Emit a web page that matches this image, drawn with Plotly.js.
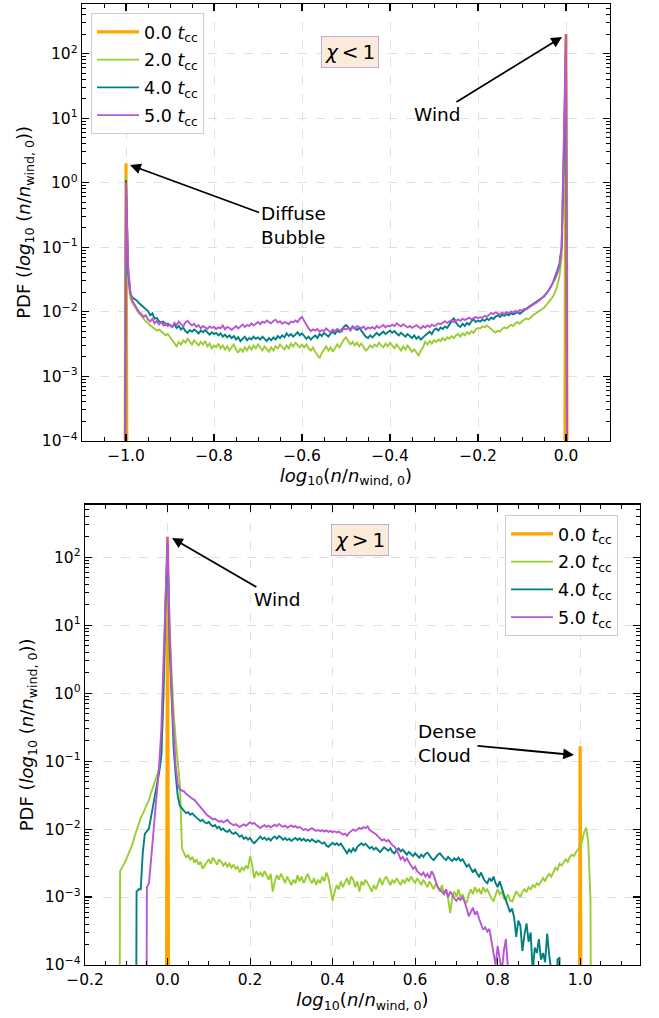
<!DOCTYPE html>
<html>
<head>
<meta charset="utf-8">
<script src="https://cdn.plot.ly/plotly-3.0.1.min.js"></script>
<style>html,body{margin:0;padding:0;background:#fff;}#chart{width:659px;height:1018px;}</style>
</head>
<body>
<div id="chart"></div>
<script>
// ---------- data ----------
const seriesNames = ["0.0 <i>t</i><sub>cc</sub>", "2.0 <i>t</i><sub>cc</sub>", "4.0 <i>t</i><sub>cc</sub>", "5.0 <i>t</i><sub>cc</sub>"];
const seriesColors = ["#FFA500", "#9ACD32", "#008080", "#BA55D3"];
const ZERO = 1e-12; // empty bin (PDF = 0)

// top panel (chi < 1): bins of width 0.005 starting at -1.005
const topStart = -1.005;
const topStep = 0.005;
const topOrangeX = [-1.005, -1.0, -0.995, -0.005, 0.0, 0.005];
const topOrangeY = [ZERO, 2.0, ZERO, ZERO, 200, ZERO];
const topGreen = [ZERO,
  1.3, .03, .016, .0135, .0118, .0102, .0093, .0086, .0078, .0071,
  .0067, .0061, .0058, .0055, .0051, .0053, .0049, .0046, .0043, .0045,
  .0040, .0037, .0033, .0029, .0034, .0031, .0036, .0033, .0038, .0034,
  .0031, .0036, .0033, .0030, .0034, .0031, .0035, .0029, .0032, .0027,
  .0030, .0028, .0032, .0027, .0030, .0026, .0029, .0025, .0028, .0031,
  .0026, .0023, .0027, .0024, .0028, .0025, .0029, .0026, .0030, .0027,
  .0031, .0028, .0025, .0029, .0026, .0024, .0028, .0025, .0029, .0027,
  .0031, .0028, .0026, .0030, .0027, .0032, .0029, .0033, .0030, .0028,
  .0031, .0028, .0031, .0027, .0025, .0028, .0024, .0021, .0019, .0023,
  .0026, .0029, .0025, .0028, .0024, .0027, .0031, .0028, .0033, .0037,
  .0040, .0036, .0031, .0034, .0030, .0033, .0029, .0032, .0028, .0025,
  .0027, .0030, .0028, .0031, .0029, .0033, .0030, .0028, .0032, .0029,
  .0033, .0030, .0027, .0031, .0028, .0025, .0029, .0026, .0030, .0027,
  .0024, .0026, .0023, .0021, .0025, .0028, .0034, .0031, .0035, .0032,
  .0036, .0034, .0037, .0035, .0039, .0036, .0040, .0038, .0042, .0039,
  .0043, .0045, .0041, .0046, .0043, .0048, .0045, .0050, .0047, .0053,
  .0056, .0055, .0059, .0057, .0061, .0058, .0054, .0050, .0047, .0051,
  .0049, .0054, .0057, .0055, .0059, .0063, .0060, .0066, .0069, .0065,
  .0071, .0074, .0079, .0076, .0083, .0088, .0093, .0098, .0102, .0108,
  .0115, .0125, .0138, .015, .017, .02, .025, .035, .07, 1.0,
  150, ZERO];
const topTeal = [ZERO,
  1.1, .04, .019, .0165, .0158, .0148, .0135, .0125, .0115, .0108,
  .0102, .0088, .0094, .0078, .0080, .0071, .0068, .0070, .0062, .0065,
  .0062, .0058, .0064, .0056, .0060, .0053, .0057, .0050, .0047, .0052,
  .0049, .0053, .0050, .0046, .0051, .0048, .0052, .0047, .0044, .0048,
  .0045, .0047, .0043, .0046, .0041, .0044, .0040, .0043, .0039, .0042,
  .0037, .0040, .0035, .0038, .0041, .0036, .0039, .0037, .0041, .0038,
  .0040, .0037, .0041, .0038, .0035, .0039, .0036, .0040, .0037, .0042,
  .0039, .0043, .0040, .0046, .0042, .0045, .0041, .0044, .0048, .0043,
  .0046, .0042, .0038, .0041, .0037, .0040, .0043, .0039, .0045, .0042,
  .0047, .0044, .0041, .0046, .0049, .0045, .0051, .0048, .0054, .0058,
  .0062, .0057, .0053, .0059, .0055, .0052, .0056, .0050, .0046, .0041,
  .0039, .0043, .0040, .0044, .0047, .0043, .0046, .0049, .0045, .0048,
  .0051, .0047, .0050, .0046, .0043, .0047, .0044, .0041, .0045, .0042,
  .0039, .0043, .0038, .0041, .0037, .0040, .0043, .0046, .0049, .0045,
  .0052, .0055, .0051, .0057, .0054, .0059, .0056, .0063, .0072, .0080,
  .0068, .0061, .0058, .0065, .0060, .0067, .0063, .0071, .0076, .0069,
  .0073, .0070, .0075, .0072, .0078, .0074, .0081, .0077, .0084, .0088,
  .0083, .0090, .0086, .0092, .0088, .0095, .0091, .0094, .0098, .0093,
  .0100, .0105, .0112, .0118, .0125, .0132, .014, .0148, .0155, .0162,
  .0172, .019, .021, .024, .028, .034, .043, .055, .1, 2.5,
  180, ZERO];
const topPurple = [ZERO,
  1.0, .05, .02, .0145, .0125, .0108, .0098, .0092, .0083, .0088,
  .0076, .0071, .0078, .0066, .0072, .0064, .0069, .0061, .0066, .0060,
  .0063, .0058, .0067, .0062, .0070, .0064, .0059, .0068, .0072, .0066,
  .0061, .0065, .0058, .0062, .0055, .0060, .0057, .0054, .0059, .0056,
  .0058, .0054, .0057, .0055, .0061, .0053, .0058, .0056, .0052, .0057,
  .0060, .0055, .0059, .0063, .0058, .0062, .0060, .0066, .0061, .0065,
  .0069, .0064, .0070, .0067, .0073, .0069, .0066, .0072, .0075, .0068,
  .0071, .0065, .0069, .0067, .0064, .0070, .0068, .0073, .0069, .0078,
  .0083, .0072, .0061, .0055, .0050, .0053, .0051, .0054, .0049, .0052,
  .0050, .0055, .0051, .0048, .0053, .0050, .0054, .0052, .0049, .0055,
  .0053, .0056, .0051, .0058, .0054, .0060, .0057, .0055, .0059, .0053,
  .0057, .0055, .0058, .0054, .0060, .0056, .0059, .0062, .0057, .0061,
  .0059, .0063, .0060, .0066, .0062, .0059, .0064, .0061, .0057, .0060,
  .0056, .0059, .0062, .0058, .0055, .0060, .0057, .0061, .0058, .0063,
  .0060, .0062, .0066, .0064, .0068, .0071, .0067, .0070, .0074, .0069,
  .0073, .0076, .0072, .0078, .0074, .0077, .0081, .0076, .0080, .0083,
  .0079, .0082, .0080, .0086, .0083, .0090, .0096, .0092, .0098, .0094,
  .0091, .0097, .0093, .0099, .0095, .0101, .0097, .0103, .0099, .0106,
  .0104, .011, .0108, .0115, .0122, .013, .0136, .0142, .015, .0162,
  .017, .019, .021, .024, .027, .032, .039, .05, .1, 3,
  200, ZERO];

// bottom panel (chi > 1): bins of width 0.005
const botStep = 0.005;
const botOrangeX = [-0.005, 0.0, 0.005, 0.995, 1.0, 1.005];
const botOrangeY = [ZERO, 200, ZERO, ZERO, 0.165, ZERO];
const botGreenStart = -0.15;
const botGreen = [
  ZERO, ZERO, ZERO, ZERO, ZERO, ZERO, ZERO, .0024, .0027, .0031,
  .0036, .0042, .0049, .0060, .0078, .0098, .0121, .0145, .0168, .0195,
  .023, .027, .034, .041, .050, .063, .080, .13, .8, 12,
  150, 8, 1.5, .5, .2, .1, .045, .0052, .0045, .0038,
  .0042, .0035, .0039, .0032, .0036, .0030, .0033, .0026, .0029, .0033,
  .0036, .0031, .0038, .0034, .0030, .0036, .0033, .0029, .0032, .0028,
  .0031, .0027, .0030, .0026, .0028, .0023, .0027, .0025, .0029, .0026,
  .0040, .0030, .0019, .0024, .0021, .0023, .0020, .0024, .0021, .0018,
  .0022, .0012, .0017, .0021, .0018, .0022, .0019, .0016, .0020, .0017,
  .0015, .0018, .0016, .0021, .0017, .0020, .0016, .0019, .0022, .0018,
  .0016, .0019, .0015, .0018, .0016, .0020, .0017, .0023, .0019, .0013,
  .00088, .0012, .0015, .0013, .0017, .0014, .0016, .0019, .0015, .0020,
  .0018, .0014, .0017, .0012, .0017, .0015, .0018, .0016, .0014, .0012,
  .0015, .0013, .0016, .0019, .0015, .0018, .0020, .0017, .0015, .0018,
  .0016, .0019, .0017, .0015, .0018, .0016, .0019, .0017, .0020, .0018,
  .0016, .0019, .0017, .0015, .0018, .0016, .0014, .0017, .0015, .0013,
  .0016, .0014, .0012, .0015, .0011, .0013, .00095, .00058, .0010, .0012,
  .0010, .0013, .00098, .0011, .00088, .00082, .0011, .0013, .0011, .0014,
  .0012, .0013, .0011, .0014, .0012, .0013, .0011, .00095, .00088, .0011,
  .0013, .0011, .0012, .00095, .00092, .0011, .00090, .00086, .0010, .0012,
  .0011, .0010, .0012, .0013, .0012, .0014, .0013, .0015, .0014, .0016,
  .0015, .0017, .0019, .0017, .0020, .0022, .0020, .0023, .0027, .0025,
  .0031, .0029, .0033, .0036, .0033, .0039, .0042, .0040, .0046, .0050,
  .0055, .0068, .0092, .0105, .0058, .0009, ZERO];
const botTealStart = -0.1;
const botTeal = [
  ZERO, ZERO, ZERO, ZERO, ZERO, .0012, .0013, .0013, .0045, .0085,
  .0095, .0102, .015, .022, .032, .046, .07, .12, 1.0, 20,
  160, 5, .6, .15, .06, .03, .022, .0198, .0185, .0172,
  .0178, .0163, .0170, .0158, .0148, .0140, .0131, .0137, .0126, .0121,
  .0128, .0116, .0110, .0115, .0104, .0108, .0097, .0102, .0094, .0091,
  .0097, .0088, .0085, .0090, .0082, .0077, .0081, .0072, .0076, .0070,
  .0074, .0066, .0062, .0068, .0072, .0078, .0071, .0075, .0069, .0073,
  .0068, .0074, .0078, .0072, .0079, .0075, .0070, .0074, .0069, .0072,
  .0067, .0071, .0074, .0069, .0073, .0068, .0072, .0067, .0070, .0066,
  .0071, .0067, .0064, .0068, .0065, .0061, .0064, .0057, .0055, .0060,
  .0063, .0059, .0062, .0058, .0061, .0055, .0048, .0044, .0050, .0046,
  .0052, .0047, .0055, .0058, .0062, .0058, .0061, .0056, .0052, .0055,
  .0050, .0053, .0049, .0046, .0050, .0054, .0051, .0048, .0052, .0046,
  .0044, .0049, .0052, .0047, .0050, .0045, .0042, .0046, .0043, .0040,
  .0044, .0041, .0038, .0042, .0039, .0043, .0045, .0041, .0037, .0035,
  .0039, .0042, .0044, .0040, .0037, .0035, .0039, .0036, .0034, .0037,
  .0035, .0038, .0034, .0036, .0031, .0028, .0030, .0026, .0023, .0026,
  .0022, .0020, .0023, .0019, .0017, .0016, .0019, .0017, .0020, .0016,
  .0014, .0017, .0013, .0011, .00090, .00075, .00060, .00068, .00050, .00026,
  .00045, .00038, .00016, .00028, .00041, .00022, .00030, .00008, .00018, .00015,
  .00024, .00012, .00015, .00011, .00029, .00014, .00008, ZERO, ZERO, .00012,
  .00013, ZERO];
const botPurpleStart = -0.1;
const botPurple = [
  ZERO, ZERO, ZERO, ZERO, ZERO, ZERO, ZERO, ZERO, ZERO, ZERO,
  .0014, .0016, .0035, .008, .018, .04, .09, .3, 3, 40,
  200, 10, 1, .25, .08, .045, .038, .037, .036, .033,
  .031, .030, .028, .027, .025, .023, .0215, .0195, .0178, .0162,
  .0155, .0148, .0139, .0142, .0134, .0128, .0133, .0126, .0131, .0137,
  .0125, .0119, .0114, .0118, .0111, .0107, .0113, .0117, .0112, .0120,
  .0126, .0119, .0123, .0115, .0109, .0104, .0110, .0114, .0108, .0112,
  .0106, .0111, .0116, .0110, .0119, .0113, .0108, .0112, .0105, .0109,
  .0113, .0107, .0111, .0104, .0108, .0102, .0097, .0101, .0095, .0099,
  .0103, .0098, .0094, .0097, .0093, .0096, .0092, .0095, .0091, .0094,
  .0090, .0093, .0089, .0092, .0087, .0083, .0086, .0080, .0088, .0095,
  .0099, .0094, .0098, .0104, .0101, .0107, .0103, .0109, .0097, .0093,
  .0088, .0084, .0078, .0072, .0068, .0071, .0066, .0069, .0062, .0058,
  .0055, .0050, .0043, .0036, .0039, .0034, .0037, .0032, .0029, .0026,
  .0028, .0024, .0022, .0021, .0023, .0020, .0022, .0019, .0024, .0021,
  .0017, .0014, .0013, .0012, .0011, .0013, .0010, .0012, .0011, .00095,
  .00088, .00097, .00091, .00099, .00085, .00068, .00052, .00060, .00070, .00055,
  .00062, .00048, .00040, .00033, .00036, .00031, .00034, .00022, .00015, .00010,
  .00019, .00013, .00008, .00016, .00024, .00009, ZERO];

// axis ticks
const yTickVals = [1e-4, 1e-3, 1e-2, 1e-1, 1e0, 1e1, 1e2];
const yTickText = ["10<sup>\u22124</sup>", "10<sup>\u22123</sup>", "10<sup>\u22122</sup>", "10<sup>\u22121</sup>", "10<sup>0</sup>", "10<sup>1</sup>", "10<sup>2</sup>"];
const yMinorVals = [];
for (let e = -5; e <= 2; e++) for (let k = 2; k <= 9; k++) yMinorVals.push(k * Math.pow(10, e));

// ---------- figure ----------
const FONT = "DejaVu Sans, Arial, sans-serif";
const W = 659, H = 1018;
function px2x(p) { return p / W; }
function px2y(p) { return 1 - p / H; }

function lineTrace(i, x0, dx, y, xa, ya, leg) {
  return { type: "scatter", mode: "lines", name: seriesNames[i], x0: x0, dx: dx, y: y,
    xaxis: xa, yaxis: ya, legend: leg, legendgroup: leg + "_" + i,
    line: { color: seriesColors[i], width: 1.9 } };
}
function orangeTrace(x, y, xa, ya, leg) {
  return { type: "scatter", mode: "lines", name: seriesNames[0], x: x, y: y,
    xaxis: xa, yaxis: ya, legend: leg, legendgroup: leg + "_0",
    line: { color: seriesColors[0], width: 3.2 } };
}

const traces = [
  orangeTrace(topOrangeX, topOrangeY, "x", "y", "legend"),
  lineTrace(1, topStart, topStep, topGreen, "x", "y", "legend"),
  lineTrace(2, topStart, topStep, topTeal, "x", "y", "legend"),
  lineTrace(3, topStart, topStep, topPurple, "x", "y", "legend"),
  orangeTrace(botOrangeX, botOrangeY, "x2", "y2", "legend2"),
  lineTrace(1, botGreenStart, botStep, botGreen, "x2", "y2", "legend2"),
  lineTrace(2, botTealStart, botStep, botTeal, "x2", "y2", "legend2"),
  lineTrace(3, botPurpleStart, botStep, botPurple, "x2", "y2", "legend2")
];

const xTitle = "<i>log</i><sub>10</sub>(<i>n</i>/<i>n</i><sub>wind, 0</sub>)";
const yTitle = "PDF (<i>log</i><sub>10</sub> (<i>n</i>/<i>n</i><sub>wind, 0</sub>))";

function xAxis(domain, anchor, range) {
  return {
    domain: domain, anchor: anchor, range: range, autorange: false,
    tick0: 0, dtick: 0.2, tickformat: ".1f",
    ticks: "inside", ticklen: 7, tickwidth: 1.1, tickcolor: "#000",
    mirror: "allticks", showline: true, linecolor: "#000", linewidth: 1.3,
    showgrid: true, gridcolor: "#d8d8d8", griddash: "dash", gridwidth: 0.8,
    zeroline: false, automargin: false,
    minor: { ticks: "inside", ticklen: 4, tickwidth: 1, tickcolor: "#000", tick0: 0, dtick: 0.05, showgrid: false },
    tickfont: { family: FONT, size: 15.5, color: "#000" },
    title: { text: xTitle, font: { family: FONT, size: 18, color: "#000" }, standoff: 4 }
  };
}
function yAxis(domain, anchor, range) {
  return {
    type: "log", domain: domain, anchor: anchor, range: range, autorange: false,
    tickmode: "array", tickvals: yTickVals, ticktext: yTickText,
    ticks: "inside", ticklen: 7, tickwidth: 1.1, tickcolor: "#000",
    mirror: "allticks", showline: true, linecolor: "#000", linewidth: 1.3,
    showgrid: true, gridcolor: "#d8d8d8", griddash: "dash", gridwidth: 0.8,
    zeroline: false, automargin: false,
    minor: { tickmode: "array", tickvals: yMinorVals, ticks: "inside", ticklen: 4, tickwidth: 1, tickcolor: "#000", showgrid: false },
    tickfont: { family: FONT, size: 15.5, color: "#000" },
    title: { text: yTitle, font: { family: FONT, size: 18, color: "#000" }, standoff: 6 }
  };
}

const legendStyle = {
  bgcolor: "rgba(255,255,255,0.85)", bordercolor: "#cccccc", borderwidth: 1,
  font: { family: FONT, size: 17.5, color: "#000" }, xanchor: "left", yanchor: "top",
  tracegroupgap: 2, itemwidth: 42
};

const chiBox = { bgcolor: "#fdebd9", bordercolor: "#b9aee0", borderwidth: 1, borderpad: 3,
  font: { family: FONT, size: 20, color: "#000" }, showarrow: false, xref: "paper", yref: "paper" };
const arrowStyle = { showarrow: true, arrowhead: 2, arrowsize: 1.2, arrowwidth: 1.8, arrowcolor: "#000",
  font: { family: FONT, size: 18.5, color: "#000" }, xref: "paper", yref: "paper", axref: "pixel", ayref: "pixel" };

const annotations = [
  Object.assign({}, chiBox, { text: "<i>\u03c7</i>\u2009&lt;\u20091", x: px2x(350), y: px2y(36) }),
  Object.assign({}, chiBox, { text: "<i>\u03c7</i>\u2009&gt;\u20091", x: px2x(360.5), y: px2y(540) }),
  Object.assign({}, arrowStyle, { text: "Wind", x: px2x(562), y: px2y(37), ax: -125, ay: 77 }),
  Object.assign({}, arrowStyle, { text: "Diffuse<br>Bubble", align: "left", x: px2x(130), y: px2y(165), ax: 163, ay: 60 }),
  Object.assign({}, arrowStyle, { text: "Wind", x: px2x(172), y: px2y(538), ax: 105, ay: 61 }),
  Object.assign({}, arrowStyle, { text: "Dense<br>Cloud", align: "left", x: px2x(574), y: px2y(755), ax: -127, ay: -12 })
];

const layout = {
  width: W, height: H,
  margin: { l: 0, r: 0, t: 0, b: 0, pad: 0 },
  paper_bgcolor: "#fff", plot_bgcolor: "#fff",
  font: { family: FONT, color: "#000" },
  showlegend: true,
  xaxis: xAxis([px2x(82), px2x(610)], "y", [-1.1, 0.1]),
  yaxis: yAxis([px2y(440.7), px2y(4)], "x", [-4, 2.77]),
  xaxis2: xAxis([px2x(85), px2x(640)], "y2", [-0.2, 1.145]),
  yaxis2: yAxis([px2y(965), px2y(504.7)], "x2", [-4, 2.774]),
  legend: Object.assign({}, legendStyle, { x: px2x(91), y: px2y(13) }),
  legend2: Object.assign({}, legendStyle, { x: px2x(505), y: px2y(515) }),
  annotations: annotations
};

Plotly.newPlot("chart", traces, layout, { staticPlot: true, displayModeBar: false });
</script>
</body>
</html>
